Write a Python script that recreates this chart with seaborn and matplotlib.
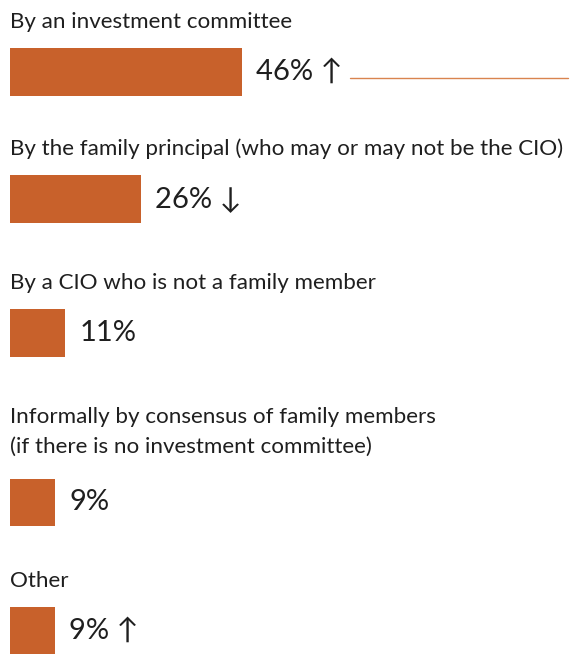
import matplotlib
matplotlib.use("Agg")
import seaborn as sns
import matplotlib.pyplot as plt

# data
categories = [
    "By an investment committee",
    "By the family principal (who may or may not be the CIO)",
    "By a CIO who is not a family member",
    "Informally by consensus of family members\n(if there is no investment committee)",
    "Other",
]
values = [46, 26, 11, 9, 9]
trends = ["↑", "↓", "", "", "↑"]

# layout (pixel rows, top = 0)
bar_center = [72, 199, 333, 502.5, 631]
label_gap = [44, 44, 44, 50, 44]
bar_color = "#C8612B"
text_color = "#1f1f1f"

sns.set_style("white")
plt.rcParams["font.family"] = ["Lato", "DejaVu Sans"]

fig = plt.figure(figsize=(5.7, 6.54), dpi=100)
ax = fig.add_axes([0, 0, 1, 1])

sns.barplot(x=values, y=bar_center, orient="y", native_scale=True,
            width=47.5 / 127, color=bar_color, saturation=1,
            linewidth=0, edgecolor="none", ax=ax)

px = 5.04  # pixels per percent
ax.set_xlim(-10 / px, 560 / px)
ax.set_ylim(654, 0)
ax.axis("off")

for cat, val, tr, yc, gap in zip(categories, values, trends, bar_center, label_gap):
    ax.text(0, yc - gap, cat, ha="left", va="baseline", fontsize=16.1,
            color=text_color, linespacing=1.6)
    label = f"{val}% {tr}".strip()
    ax.annotate(label, (val, yc), xytext=(10, 0), textcoords="offset points",
                ha="left", va="center", fontsize=21, color=text_color)

# thin rule after the first value
ax.plot([values[0] + 21.5, 558 / px], [bar_center[0] + 6] * 2,
        color="#D9844F", lw=1)

fig.savefig("out.png", dpi=100)
